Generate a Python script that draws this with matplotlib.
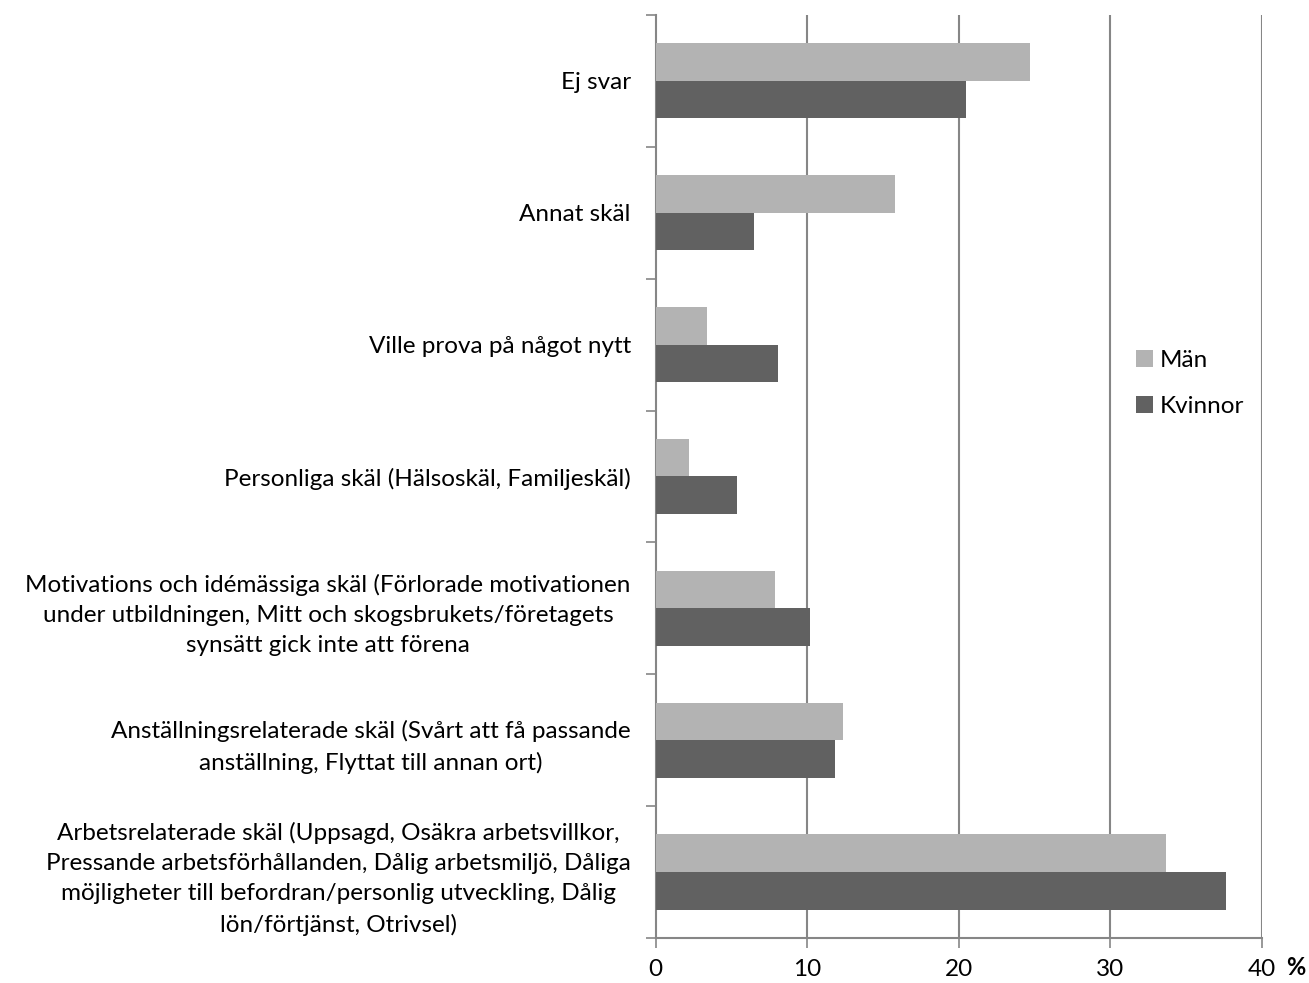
import numpy as np
import matplotlib.pyplot as plt

plt.rcParams['font.family'] = ['Lato', 'DejaVu Sans']

categories = [
    "Arbetsrelaterade skäl (Uppsagd, Osäkra arbetsvillkor,\nPressande arbetsförhållanden, Dålig arbetsmiljö, Dåliga\nmöjligheter till befordran/personlig utveckling, Dålig\nlön/förtjänst, Otrivsel)",
    "Anställningsrelaterade skäl (Svårt att få passande\nanställning, Flyttat till annan ort)",
    "Motivations och idémässiga skäl (Förlorade motivationen\nunder utbildningen, Mitt och skogsbrukets/företagets\nsynsätt gick inte att förena",
    "Personliga skäl (Hälsoskäl, Familjeskäl)",
    "Ville prova på något nytt",
    "Annat skäl",
    "Ej svar",
]
man = [33.7, 12.35, 7.85, 2.2, 3.4, 15.8, 24.7]
kvinnor = [37.6, 11.8, 10.2, 5.35, 8.05, 6.5, 20.5]
xticks = [0, 10, 20, 30, 40]

fig = plt.figure(figsize=(13.09, 9.83), dpi=100)
ax = fig.add_axes([0.501, 0.0458, 0.463, 0.939])

y = np.arange(len(categories))
h = 0.285
ax.barh(y - h / 2, kvinnor, height=h, color="#616161", label="Kvinnor", zorder=3)
ax.barh(y + h / 2, man, height=h, color="#b3b3b3", label="Män", zorder=3)

ax.set_xlim(0, 40)
ax.set_ylim(-0.5, len(categories) - 0.5)
ax.set_xticks(xticks)
ax.set_xticklabels([str(v) for v in xticks], fontsize=17.5)
ax.tick_params(axis='x', direction='out', length=7, width=1.2, color="#868686", pad=8)
ax.set_yticks(y)
ax.set_yticklabels(categories, fontsize=17.5, multialignment='center', linespacing=1.55)
ax.tick_params(axis='y', which='major', length=0, pad=18)
ax.set_yticks(np.arange(-0.5, len(categories)), minor=True)
ax.tick_params(axis='y', which='minor', direction='out', length=7, width=1.2, color="#868686")

for v in xticks[1:]:
    ax.axvline(v, color="#868686", lw=1.5, zorder=1)

for s in ['top', 'right']:
    ax.spines[s].set_visible(False)
for s in ['left', 'bottom']:
    ax.spines[s].set_color("#868686")
    ax.spines[s].set_linewidth(1.5)

handles, labels = ax.get_legend_handles_labels()
fig.legend(handles[::-1], labels[::-1], loc='center left', bbox_to_anchor=(0.851, 0.61),
           frameon=False, fontsize=17.5, handlelength=0.7, handleheight=0.7,
           handletextpad=0.3, labelspacing=1.05)

fig.text(0.997, 0.004, "%", fontsize=17, fontweight='bold', ha='right', va='bottom')

fig.savefig("out.png", dpi=100)
